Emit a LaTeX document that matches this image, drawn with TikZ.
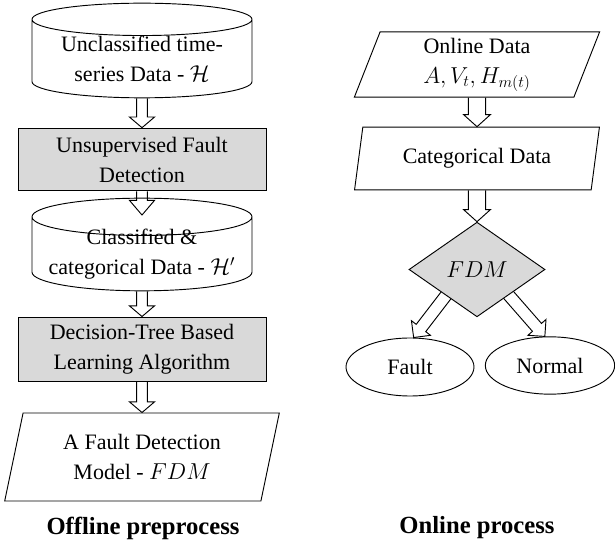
\documentclass[tikz,border=0pt]{standalone}
\usepackage{fontspec}
\setmainfont{Liberation Serif}
\usetikzlibrary{shapes.geometric,calc,backgrounds}

\begin{document}
\begin{tikzpicture}[x=0.75pt,y=-0.75pt,
  every node/.style={font=\fontsize{16.5}{22.5}\selectfont, align=center},
  base/.style={draw, line width=0.7pt, inner sep=0pt},
  db/.style={base, cylinder, shape border rotate=90, aspect=0.2, minimum width=165pt, inner ysep=-12pt, anchor=shape center},
  proc/.style={base, fill=gray!30, minimum width=186pt},
  io/.style={base, trapezium, trapezium left angle=75, trapezium right angle=105, trapezium stretches=true},
  fatarrow/.style n args={3}{draw, line width=0.7pt, line join=miter, to path={
    let \p1=(\tikztostart), \p2=(\tikztotarget), \n1={atan2(\y2-\y1,\x2-\x1)}, \n2={veclen(\x2-\x1,\y2-\y1)} in
    [shift={(\p1)}, rotate=\n1] (0pt,#1) -- ({\n2*1pt-#3},#1) -- ({\n2*1pt-#3},#2) -- ({\n2*1pt},0pt)
    -- ({\n2*1pt-#3},-#2) -- ({\n2*1pt-#3},-#1) -- (0pt,-#1)}},
  title/.style={font=\fontsize{18.5}{22}\selectfont\bfseries}]
\useasboundingbox (0,0) rectangle (615,545);

% offline
\node[db, minimum height=71pt] (rawdata) at (142, 50.5) {Unclassified time-\\ series Data - $\mathcal{H}$};
\node[proc, minimum height=47pt] (unsup) at (142, 159.5) {Unsupervised Fault\\ Detection};
\node[db, minimum height=69.5pt] (catdata) at (142, 244.5) {Classified \&\\ categorical Data - $\mathcal{H}'$};
\node[proc, minimum height=48pt] (learn) at (142, 349) {Decision-Tree Based\\ Learning Algorithm};
\node[io, minimum width=206pt, minimum height=66pt] (model) at (142, 457) {A Fault Detection\\ Model - $FDM$};
\node[title] (offline) at (143, 528) {Offline preprocess};

% online
\node[io, minimum width=184pt, minimum height=49pt] (online) at (477, 64.5) {Online Data\\ $A, V_t, H_{m(t)}$};
\node[io, minimum width=184pt, minimum height=47pt] (catonline) at (477, 158.5) {Categorical Data};
\node[base, diamond, fill=gray!30, minimum width=102pt, minimum height=71pt] (dec) at (477, 269.5) {$FDM$};
\node[base, ellipse, minimum width=96pt, minimum height=43.5pt] (fault) at (410, 367) {Fault};
\node[base, ellipse, minimum width=97pt, minimum height=43pt] (normal) at (550, 365.5) {Normal};
\node[title] (onlinep) at (477, 528) {Online process};

\draw[fatarrow={4pt}{9.4pt}{8pt}] (rawdata.south) to (unsup.north);
\draw[fatarrow={4pt}{9.4pt}{11pt}] (unsup.south) to ([yshift=-13pt]catdata.north);
\draw[fatarrow={4pt}{9.4pt}{8pt}] (catdata.south) to (learn.north);
\draw[fatarrow={4pt}{9.4pt}{8pt}] (learn.south) to (model.north);
\draw[fatarrow={6.5pt}{10pt}{9pt}] (online.south) to (catonline.north);
\draw[fatarrow={6.5pt}{10pt}{9pt}] (catonline.south) to (dec.north);
\begin{scope}[on background layer]
\draw[fatarrow={4.5pt}{9pt}{9pt}] ($(dec.south west)!0.3!(dec.center)$) to (fault.83);
\draw[fatarrow={4.5pt}{9pt}{9pt}] ($(dec.south east)!0.3!(dec.center)$) to (normal.100);
\end{scope}
\end{tikzpicture}
\end{document}
